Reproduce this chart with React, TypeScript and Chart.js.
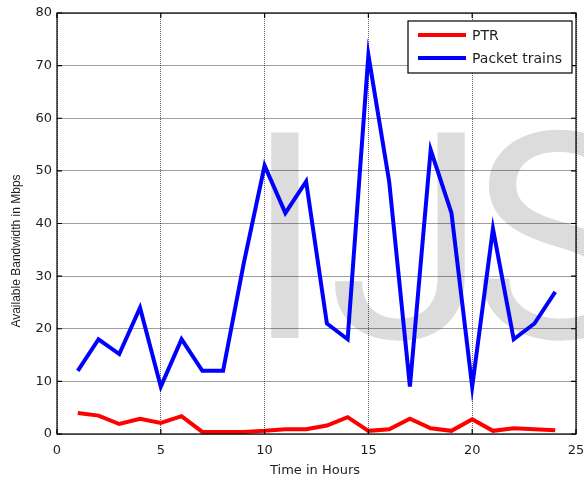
import { useEffect, useRef } from "react";
import { Chart, registerables } from "chart.js";

Chart.register(...registerables);

// hours 1..24
const hours = [1, 2, 3, 4, 5, 6, 7, 8, 9, 10, 11, 12, 13, 14, 15, 16, 17, 18, 19, 20, 21, 22, 23, 24];

const ptrValues = [4.0, 3.5, 1.9, 2.9, 2.1, 3.4, 0.4, 0.4, 0.4, 0.6, 0.9, 0.9, 1.6, 3.2, 0.6, 0.9, 2.9, 1.1, 0.6, 2.8, 0.6, 1.1, 0.9, 0.7];

const packetTrainValues = [12, 18, 15.2, 24, 9, 18, 12, 12, 32.5, 51, 42, 48, 21, 18, 72, 48, 9, 54, 42, 9, 39, 18, 21, 27];

const seriesLabels = ["PTR", "Packet trains"];
const seriesColors = ["#ff0000", "#0000ff"];

const xTitle = "Time in Hours";
const yTitle = "Available Bandwidth in Mbps";
const watermarkLetters = ["I", "J", "S"];

const TEXT = "#1e1e1e";

const matlabPlugin = {
  id: "matlabDecor",
  beforeDraw(chart: any) {
    const { ctx } = chart;
    ctx.save();
    ctx.fillStyle = "#dcdcdc";
    ctx.textBaseline = "alphabetic";
    ctx.textAlign = "left";
    ctx.font = "100px Roboto, 'Liberation Sans', sans-serif";
    // size the letters so the cap height is about 208px
    const capRef = ctx.measureText("I").actualBoundingBoxAscent || 72;
    const size = Math.round((100 * 208) / capRef);
    ctx.font = `${size}px Roboto, 'Liberation Sans', sans-serif`;
    const lefts = [268, 332, 480];
    watermarkLetters.forEach((ch, i) => {
      const m = ctx.measureText(ch);
      ctx.fillText(ch, lefts[i] + (m.actualBoundingBoxLeft || 0), 338);
    });
    ctx.restore();
  },
  afterDatasetsDraw(chart: any) {
    const { ctx, chartArea } = chart;
    const { left, right, top, bottom } = chartArea;
    const xs = chart.scales.x;
    const ys = chart.scales.y;
    ctx.save();

    // box
    ctx.strokeStyle = "#000";
    ctx.lineWidth = 1.2;
    ctx.setLineDash([]);
    ctx.strokeRect(left, top, right - left, bottom - top);

    // inward ticks
    const tl = 5;
    ctx.beginPath();
    for (const t of xs.ticks) {
      const px = xs.getPixelForValue(t.value);
      ctx.moveTo(px, bottom);
      ctx.lineTo(px, bottom - tl);
      ctx.moveTo(px, top);
      ctx.lineTo(px, top + tl);
    }
    for (const t of ys.ticks) {
      const py = ys.getPixelForValue(t.value);
      ctx.moveTo(left, py);
      ctx.lineTo(left + tl, py);
      ctx.moveTo(right, py);
      ctx.lineTo(right - tl, py);
    }
    ctx.stroke();

    // legend
    const lx = 408;
    const ly = 21;
    const lw = 164;
    const lh = 52;
    ctx.fillStyle = "#fff";
    ctx.fillRect(lx, ly, lw, lh);
    ctx.strokeStyle = "#000";
    ctx.lineWidth = 1.2;
    ctx.strokeRect(lx, ly, lw, lh);
    ctx.font = "14px 'DejaVu Sans', sans-serif";
    ctx.textBaseline = "middle";
    ctx.textAlign = "left";
    chart.data.datasets.forEach((ds: any, i: number) => {
      const yy = ly + 14 + i * 23;
      ctx.strokeStyle = ds.borderColor;
      ctx.lineWidth = 4;
      ctx.beginPath();
      ctx.moveTo(lx + 10, yy);
      ctx.lineTo(lx + 58, yy);
      ctx.stroke();
      ctx.fillStyle = TEXT;
      ctx.fillText(ds.label, lx + 64, yy + 1);
    });

    // axis titles
    ctx.fillStyle = TEXT;
    ctx.font = "13px 'DejaVu Sans', sans-serif";
    ctx.textAlign = "center";
    ctx.textBaseline = "middle";
    ctx.fillText(xTitle, 315, 471);

    ctx.save();
    ctx.translate(17, 251);
    ctx.rotate(-Math.PI / 2);
    ctx.font = "12px 'Liberation Sans', Arial, sans-serif";
    ctx.fillText(yTitle, 0, 0);
    ctx.restore();

    ctx.restore();
  },
};

export default function App() {
  const canvasRef = useRef<HTMLCanvasElement | null>(null);

  useEffect(() => {
    const canvas = canvasRef.current;
    if (!canvas) return;

    const chart = new Chart(canvas, {
      type: "line",
      data: {
        datasets: [
          {
            label: seriesLabels[0],
            data: hours.map((h, i) => ({ x: h, y: ptrValues[i] })),
            borderColor: seriesColors[0],
            backgroundColor: seriesColors[0],
            borderWidth: 4,
            pointRadius: 0,
            tension: 0,
          },
          {
            label: seriesLabels[1],
            data: hours.map((h, i) => ({ x: h, y: packetTrainValues[i] })),
            borderColor: seriesColors[1],
            backgroundColor: seriesColors[1],
            borderWidth: 4,
            pointRadius: 0,
            tension: 0,
          },
        ],
      },
      options: {
        animation: false,
        responsive: true,
        maintainAspectRatio: false,
        layout: { padding: { top: 13, right: 8, left: 0, bottom: 0 } },
        plugins: {
          legend: { display: false },
          tooltip: { enabled: false },
        },
        scales: {
          x: {
            type: "linear",
            min: 0,
            max: 25,
            afterFit: (s: any) => {
              s.height = 43;
              s.paddingLeft = 0;
              s.paddingRight = 0;
            },
            ticks: {
              stepSize: 5,
              padding: 9,
              color: TEXT,
              font: { family: "'DejaVu Sans', sans-serif", size: 13 },
            },
            grid: {
              color: "rgba(50,50,50,0.8)",
              lineWidth: 1,
              drawTicks: false,
              borderDash: [1, 1],
            } as any,
            border: { display: false, dash: [1, 1] },
          },
          y: {
            min: 0,
            max: 80,
            afterFit: (s: any) => {
              s.width = 57;
            },
            ticks: {
              stepSize: 10,
              padding: 5,
              color: TEXT,
              font: { family: "'DejaVu Sans', sans-serif", size: 13 },
            },
            grid: {
              color: "rgba(0,0,0,0.38)",
              lineWidth: 1,
              drawTicks: false,
            },
            border: { display: false },
          },
        },
      },
      plugins: [matlabPlugin],
    });

    return () => {
      chart.destroy();
    };
  }, []);

  return (
    <div style={{ position: "absolute", left: 0, top: 0, width: 584, height: 477, background: "#fff" }}>
      <canvas ref={canvasRef} />
    </div>
  );
}
